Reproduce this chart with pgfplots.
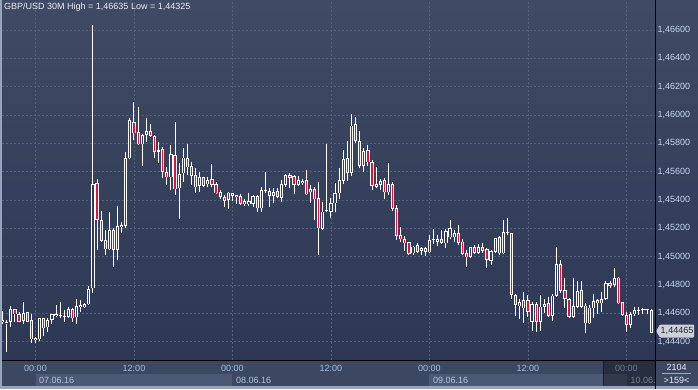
\documentclass[border=0pt]{standalone}
\usepackage{pgfplots}
\pgfplotsset{compat=1.18}
\usepackage{pgfplotstable}
\usepackage{fontspec}
\setmainfont{Liberation Sans}
\definecolor{bgtop}{RGB}{63,75,100}
\definecolor{bgbot}{RGB}{44,56,84}
\definecolor{gridc}{RGB}{84,97,124}
\definecolor{panel}{RGB}{60,72,97}
\definecolor{band}{RGB}{76,89,116}
\definecolor{framec}{RGB}{150,164,188}
\definecolor{bear}{RGB}{222,18,62}
\definecolor{ylab}{RGB}{198,214,238}
\definecolor{xlab}{RGB}{164,188,224}
\definecolor{dlab}{RGB}{180,196,222}
\definecolor{titlec}{RGB}{232,238,246}
\definecolor{pricebg}{RGB}{205,210,218}

\pgfplotstableread{
i O H L C
-8 1.44541 1.44619 1.44525 1.44553
-7 1.44529 1.44553 1.44329 1.44541
-6 1.44541 1.44652 1.44506 1.44628
-5 1.44628 1.44630 1.44541 1.44593
-4 1.44593 1.44607 1.44541 1.44541
-3 1.44546 1.44678 1.44525 1.44602
-2 1.44607 1.44610 1.44538 1.44541
-1 1.44553 1.44596 1.44389 1.44417
0 1.44412 1.44435 1.44389 1.44424
1 1.44417 1.44570 1.44407 1.44565
2 1.44565 1.44568 1.44443 1.44494
3 1.44501 1.44565 1.44471 1.44553
4 1.44553 1.44596 1.44525 1.44593
5 1.44581 1.44659 1.44577 1.44593
6 1.44581 1.44678 1.44565 1.44584
7 1.44572 1.44624 1.44541 1.44581
8 1.44577 1.44643 1.44570 1.44631
9 1.44631 1.44635 1.44541 1.44565
10 1.44572 1.44699 1.44525 1.44652
11 1.44643 1.44694 1.44612 1.44659
12 1.44643 1.44671 1.44636 1.44664
13 1.44664 1.44796 1.44659 1.44770
14 1.44777 1.46635 1.44746 1.45511
15 1.45518 1.45546 1.45047 1.45259
16 1.45259 1.45323 1.45106 1.45113
17 1.45118 1.45189 1.45012 1.45052
18 1.45052 1.45318 1.45047 1.45189
19 1.45189 1.45200 1.44930 1.45047
20 1.45047 1.45358 1.44977 1.45217
21 1.45212 1.45247 1.45165 1.45224
22 1.45217 1.45742 1.45200 1.45694
23 1.45694 1.45977 1.45687 1.45965
24 1.45949 1.46095 1.45824 1.45871
25 1.45878 1.46055 1.45789 1.45793
26 1.45793 1.45864 1.45643 1.45859
27 1.45859 1.45977 1.45812 1.45887
28 1.45887 1.45934 1.45847 1.45852
29 1.45852 1.45859 1.45694 1.45742
30 1.45749 1.45807 1.45664 1.45742
31 1.45758 1.45772 1.45553 1.45600
32 1.45595 1.45630 1.45506 1.45560
33 1.45560 1.45788 1.45470 1.45722
34 1.45715 1.45951 1.45435 1.45475
35 1.45482 1.45659 1.45263 1.45583
36 1.45588 1.45765 1.45529 1.45699
37 1.45694 1.45795 1.45576 1.45630
38 1.45640 1.45670 1.45506 1.45569
39 1.45574 1.45623 1.45452 1.45489
40 1.45499 1.45595 1.45459 1.45560
41 1.45560 1.45565 1.45489 1.45499
42 1.45510 1.45560 1.45489 1.45541
43 1.45546 1.45654 1.45494 1.45506
44 1.45510 1.45529 1.45440 1.45447
45 1.45423 1.45470 1.45405 1.45454
46 1.45423 1.45435 1.45353 1.45395
47 1.45400 1.45459 1.45336 1.45452
48 1.45430 1.45452 1.45395 1.45447
49 1.45433 1.45435 1.45372 1.45419
50 1.45428 1.45440 1.45365 1.45372
51 1.45369 1.45405 1.45358 1.45393
52 1.45369 1.45447 1.45358 1.45393
53 1.45372 1.45435 1.45353 1.45430
54 1.45428 1.45435 1.45318 1.45341
55 1.45341 1.45494 1.45318 1.45470
56 1.45463 1.45595 1.45447 1.45470
57 1.45463 1.45482 1.45353 1.45430
58 1.45428 1.45482 1.45376 1.45456
59 1.45463 1.45482 1.45412 1.45423
60 1.45417 1.45542 1.45389 1.45511
61 1.45506 1.45582 1.45495 1.45577
62 1.45577 1.45589 1.45483 1.45558
63 1.45570 1.45577 1.45440 1.45506
64 1.45506 1.45570 1.45502 1.45542
65 1.45518 1.45549 1.45506 1.45534
66 1.45542 1.45612 1.45436 1.45440
67 1.45454 1.45506 1.45377 1.45478
68 1.45478 1.45495 1.45259 1.45405
69 1.45412 1.45530 1.45012 1.45200
70 1.45196 1.45389 1.45189 1.45318
71 1.45320 1.45793 1.45318 1.45325
72 1.45318 1.45412 1.45276 1.45377
73 1.45377 1.45518 1.45313 1.45447
74 1.45447 1.45629 1.45407 1.45542
75 1.45534 1.45753 1.45511 1.45690
76 1.45694 1.45817 1.45534 1.45589
77 1.45593 1.46005 1.45572 1.45925
78 1.45935 1.45989 1.45800 1.45817
79 1.45817 1.45887 1.45624 1.45640
80 1.45640 1.45770 1.45596 1.45746
81 1.45753 1.45789 1.45640 1.45666
82 1.45666 1.45683 1.45471 1.45499
83 1.45495 1.45636 1.45483 1.45513
84 1.45506 1.45549 1.45471 1.45534
85 1.45542 1.45558 1.45405 1.45454
86 1.45454 1.45659 1.45436 1.45513
87 1.45513 1.45530 1.45323 1.45337
88 1.45341 1.45365 1.45118 1.45149
89 1.45153 1.45212 1.45106 1.45122
90 1.45122 1.45146 1.45042 1.45094
91 1.45101 1.45106 1.45012 1.45019
92 1.45024 1.45075 1.45012 1.45071
93 1.45082 1.45099 1.45024 1.45035
94 1.45042 1.45071 1.45012 1.45059
95 1.45059 1.45071 1.45007 1.45035
96 1.45031 1.45153 1.45024 1.45118
97 1.45118 1.45193 1.45089 1.45125
98 1.45106 1.45153 1.45075 1.45122
99 1.45122 1.45188 1.45089 1.45099
100 1.45094 1.45193 1.45059 1.45181
101 1.45136 1.45259 1.45122 1.45200
102 1.45136 1.45188 1.45106 1.45165
103 1.45165 1.45224 1.45082 1.45099
104 1.45106 1.45122 1.45012 1.45019
105 1.45028 1.45047 1.44929 1.44995
106 1.45000 1.45071 1.44988 1.45066
107 1.45066 1.45082 1.45019 1.45028
108 1.45028 1.45089 1.45019 1.45066
109 1.45066 1.45099 1.45024 1.45042
110 1.45052 1.45059 1.44918 1.44976
111 1.44972 1.45047 1.44941 1.45042
112 1.45035 1.45134 1.45024 1.45129
113 1.45141 1.45146 1.45012 1.45024
114 1.45024 1.45259 1.45019 1.45172
115 1.45169 1.45271 1.45153 1.45172
116 1.45165 1.45170 1.44699 1.44729
117 1.44729 1.44735 1.44580 1.44660
118 1.44650 1.44700 1.44560 1.44680
119 1.44636 1.44753 1.44530 1.44695
120 1.44695 1.44730 1.44577 1.44612
121 1.44542 1.44683 1.44476 1.44666
122 1.44666 1.44678 1.44471 1.44542
123 1.44542 1.44730 1.44476 1.44648
124 1.44648 1.44702 1.44600 1.44666
125 1.44671 1.44718 1.44577 1.44584
126 1.44584 1.44735 1.44546 1.44725
127 1.44725 1.45071 1.44718 1.44946
128 1.44946 1.44977 1.44742 1.44758
129 1.44765 1.44852 1.44636 1.44702
130 1.44702 1.44706 1.44570 1.44577
131 1.44577 1.44852 1.44570 1.44652
132 1.44648 1.44829 1.44636 1.44758
133 1.44763 1.44829 1.44640 1.44648
134 1.44655 1.44671 1.44459 1.44530
135 1.44530 1.44659 1.44523 1.44641
136 1.44636 1.44735 1.44565 1.44688
137 1.44695 1.44702 1.44593 1.44671
138 1.44671 1.44753 1.44607 1.44702
139 1.44702 1.44829 1.44695 1.44812
140 1.44812 1.44829 1.44782 1.44796
141 1.44800 1.44923 1.44789 1.44848
142 1.44852 1.44859 1.44664 1.44671
143 1.44678 1.44683 1.44584 1.44589
144 1.44589 1.44608 1.44471 1.44518
145 1.44518 1.44608 1.44499 1.44596
146 1.44593 1.44648 1.44584 1.44624
147 1.44617 1.44648 1.44589 1.44619
148 1.44622 1.44636 1.44593 1.44624
149 1.44621 1.44631 1.44593 1.44622
150 1.44624 1.44631 1.44465 1.44465
}\candles

\begin{document}
\begin{tikzpicture}[x=1pt,y=1pt]
\useasboundingbox (0,0) rectangle (698,389);
\fill[framec] (0,0) rectangle (698,389);
\shade[top color=bgtop, bottom color=bgbot] (2,29) rectangle (698,389);
\fill[panel] (2,3) rectangle (698,29);
\fill[band] (35.5,3) rectangle (232.3,15);
\fill[band] (429,3) rectangle (626.5,15);

\begin{axis}[
  at={(2pt,29pt)}, anchor=south west,
  width=653pt, height=360pt, scale only axis,
  xmin=-8.163, xmax=150.95,
  ymin=1.44271, ymax=1.46812,
  enlargelimits=false,
  axis line style={draw=none},
  tick style={draw=none},
  grid=major,
  major grid style={dash pattern=on 2pt off 2pt, color=gridc, line width=0.8pt},
  xtick={0,24,48,72,96,120,144},
  xticklabels={00:00,12:00,00:00,12:00,00:00,12:00,00:00},
  xticklabel style={anchor=base, yshift=-11pt, text=xlab, font=\fontsize{9}{10}\selectfont},
  ytick={1.444,1.446,1.448,1.450,1.452,1.454,1.456,1.458,1.460,1.462,1.464,1.466},
  yticklabel pos=right,
  scaled y ticks=false,
  yticklabel style={anchor=west, xshift=-1pt, text=ylab, font=\fontsize{9}{10}\selectfont,
    /pgf/number format/.cd, fixed, fixed zerofill, precision=5, use comma, assume math mode=true},
  colormap={bgmap}{rgb255=(44,56,84) rgb255=(63,75,100)},
  point meta min=1.44271, point meta max=1.46812,
]
% wicks
\addplot[white, line width=1pt, -, quiver={u=0, v={\thisrow{H}-\thisrow{L}}}]
  table[x=i, y=L] {\candles};
% body outlines
\addplot[white, line width=3.2pt, -, quiver={u=0, v={max(abs(\thisrow{C}-\thisrow{O}),0.00008)}}]
  table[x=i, y expr={min(\thisrow{O},\thisrow{C})}] {\candles};
% bearish interiors
\addplot[bear, line width=1.2pt, -, quiver={u=0, v={\thisrow{O}-\thisrow{C}-0.00011}},
  restrict expr to domain={\thisrow{O}-\thisrow{C}}{0.00012:1}]
  table[x=i, y expr={\thisrow{C}+0.000055}] {\candles};
% bullish interiors
\addplot[line width=1.2pt, -, point meta=y, quiver={u=0, v={\thisrow{C}-\thisrow{O}-0.00011}, colored=mapped color},
  restrict expr to domain={\thisrow{C}-\thisrow{O}}{0.00012:1}]
  table[x=i, y expr={\thisrow{O}+0.000055}] {\candles};
\end{axis}

\draw[black, line width=1pt] (2,28.5) -- (698,28.5);
\draw[black, line width=1pt] (655,0) -- (655,389);

\node[anchor=west, inner sep=0pt, text=titlec, font=\fontsize{9}{10}\selectfont] at (4,381.5) {GBP/USD 30M High = 1,46635 Low = 1,44325};

\node[anchor=west, inner sep=0pt, text=dlab, font=\fontsize{9}{10}\selectfont] at (39,9) {07.06.16};
\node[anchor=west, inner sep=0pt, text=dlab, font=\fontsize{9}{10}\selectfont] at (236,9) {08.06.16};
\node[anchor=west, inner sep=0pt, text=dlab, font=\fontsize{9}{10}\selectfont] at (433,9) {09.06.16};
\node[anchor=west, inner sep=0pt, text=dlab, font=\fontsize{9}{10}\selectfont] at (630.5,9) {10.06.};

\fill[black, opacity=0.35] (603,3) rectangle (654.5,28);
\draw[black!60!panel, line width=0.8pt] (603,3) -- (603,28);

\fill[pricebg, rounded corners=1pt] (656,58) -- (660,64.5) -- (694,64.5) -- (694,51.5) -- (660,51.5) -- cycle;
\node[inner sep=0pt, text=black!85, font=\fontsize{9}{10}\selectfont] at (677,58) {1,44465};

\node[inner sep=0pt, text=titlec, font=\fontsize{9}{10}\selectfont] at (676.5,22) {2104};
\draw[color=ylab!70!panel, line width=0.8pt] (662,16) -- (691,16);
\node[inner sep=0pt, text=titlec, font=\fontsize{9}{10}\selectfont] at (676.5,8.5) {>159<};
\end{tikzpicture}
\end{document}
